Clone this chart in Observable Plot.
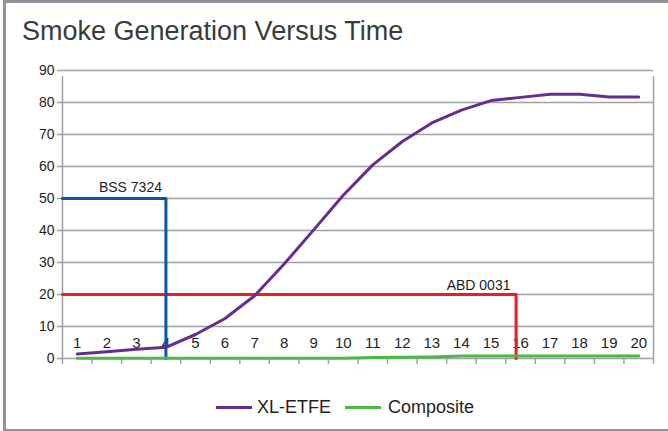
<!DOCTYPE html>
<html>
<head>
<meta charset="utf-8">
<script src="https://cdn.jsdelivr.net/npm/d3@7"></script>
<script src="https://cdn.jsdelivr.net/npm/@observablehq/plot@0.6"></script>
<style>
  html, body { margin: 0; padding: 0; width: 668px; height: 431px; overflow: hidden; background: #fff; }
  body { position: relative; font-family: "Liberation Sans", Arial, Helvetica, sans-serif; }
  #frame { position: absolute; left: 3px; top: 0; width: 665px; height: 431px; box-sizing: border-box;
           border-top: 3px solid #8e9399; border-left: 3px solid #8e9399; border-bottom: 2px solid #8e9399; }
  #title { position: absolute; left: 22px; top: 16px; font-size: 27px; line-height: 30px; color: #3a3a3a; white-space: nowrap; }
  #chart { position: absolute; left: 0; top: 56px; }
  #legend { position: absolute; left: 216px; top: 396px; height: 22px; display: flex; align-items: center;
            font-size: 18px; color: #231f20; white-space: nowrap; }
  .sw { display: inline-block; width: 36px; height: 3px; margin-right: 5px; }
</style>
</head>
<body>
<div id="frame"></div>
<div id="title">Smoke Generation Versus Time</div>
<div id="chart"></div>
<div id="legend">
  <span class="sw" style="background:#662d91"></span><span>XL-ETFE</span>
  <span class="sw" style="background:#4db848; margin-left:14px; margin-right:7px"></span><span>Composite</span>
</div>
<script>
// Data
const times = [1,2,3,4,5,6,7,8,9,10,11,12,13,14,15,16,17,18,19,20];
const xlEtfe = [1.4,2.1,2.9,3.5,7.5,12.5,19.6,29.5,40.2,51,60.5,67.8,73.6,77.6,80.6,81.6,82.6,82.6,81.7,81.7];
const composite = [0.1,0.1,0.1,0.1,0.1,0.1,0.1,0.1,0.1,0.1,0.3,0.4,0.5,0.8,0.8,0.8,0.8,0.8,0.8,0.8];
const yTicks = [0,10,20,30,40,50,60,70,80,90];
const bssLabel = "BSS 7324", bssLevel = 50, bssTime = 4, bssLabelPos = [2.8, 53.5];
const abdLabel = "ABD 0031", abdLevel = 20, abdTime = 15.85, abdLabelPos = [14.58, 22.8];

const xStart = 0.5, xEnd = 20.5;
const boundaries = d3.range(xStart, xEnd + 0.01, 1);

const xl = times.map((t, i) => ({t, v: xlEtfe[i]}));
const comp = times.map((t, i) => ({t, v: composite[i]}));
const bss = [{t: xStart, v: bssLevel}, {t: bssTime, v: bssLevel}, {t: bssTime, v: 0}];
const abd = [{t: xStart, v: abdLevel}, {t: abdTime, v: abdLevel}, {t: abdTime, v: 0}];

const gray = "#9da1a5";
const chart = Plot.plot({
  width: 668,
  height: 330,
  marginLeft: 62,
  marginRight: 15,
  marginTop: 14,
  marginBottom: 28,
  style: {fontFamily: "'Liberation Sans', Arial, Helvetica, sans-serif", color: "#231f20", background: "transparent"},
  x: {domain: [xStart, xEnd], axis: null},
  y: {domain: [0, 90], axis: null},
  marks: [
    Plot.gridY(yTicks, {stroke: gray, strokeOpacity: 1, strokeWidth: 1.5}),
    Plot.axisY(yTicks, {tickSize: 5, tickPadding: 3, stroke: gray, strokeWidth: 1.5, fontSize: 14, fill: "#1e1e1e", label: null, tickFormat: d => String(d)}),
    Plot.axisX(boundaries, {tickSize: 6, stroke: gray, strokeWidth: 1.5, tickFormat: () => "", label: null}),
    Plot.ruleX([xStart, xEnd], {y1: 0, y2: 90, stroke: gray, strokeWidth: 1.5, insetBottom: -6}),
    Plot.text(times, {x: d => d, y: 0, dy: -15, text: d => String(d), fontSize: 15, fill: "#1e1e1e"}),
    Plot.line(abd, {x: "t", y: "v", stroke: "#ed1c24", strokeWidth: 3}),
    Plot.line(bss, {x: "t", y: "v", stroke: "#0b56a0", strokeWidth: 3}),
    Plot.line(comp, {x: "t", y: "v", stroke: "#4db848", strokeWidth: 3}),
    Plot.line(xl, {x: "t", y: "v", stroke: "#662d91", strokeWidth: 3}),
    Plot.text([bssLabel], {x: bssLabelPos[0], y: bssLabelPos[1], text: d => d, fontSize: 14, fill: "#1e1e1e"}),
    Plot.text([abdLabel], {x: abdLabelPos[0], y: abdLabelPos[1], text: d => d, fontSize: 14, fill: "#1e1e1e"})
  ]
});
document.getElementById("chart").appendChild(chart);
</script>
</body>
</html>
